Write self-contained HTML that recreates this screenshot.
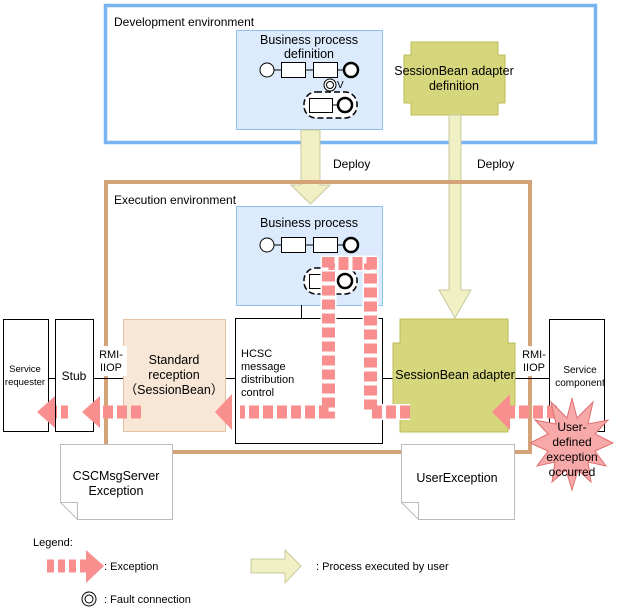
<!DOCTYPE html>
<html><head><meta charset="utf-8"><style>
html,body{margin:0;padding:0;background:#fff}
svg{display:block;font-family:"Liberation Sans",Arial,sans-serif}
</style></head><body>
<svg width="619" height="613" viewBox="0 0 619 613" xmlns="http://www.w3.org/2000/svg">
<!-- Dev env -->
<rect x="105.5" y="5.5" width="490" height="137" fill="none" stroke="#78b4f0" stroke-width="3.5"/>
<text x="114" y="26" font-size="12">Development environment</text>
<!-- BP def -->
<rect x="236.5" y="30.5" width="146" height="99" fill="#dbeafc" stroke="#90c0ec"/>
<text x="309" y="44" font-size="12.5" text-anchor="middle">Business process</text>
<text x="309" y="58" font-size="12.5" text-anchor="middle">definition</text>
<g stroke="#000" fill="#fff">
<line x1="274" y1="70" x2="344" y2="70"/>
<circle cx="267" cy="70" r="7"/>
<rect x="281.5" y="62.5" width="24" height="15"/>
<rect x="313.5" y="62.5" width="24" height="15"/>
<circle cx="351" cy="70" r="7" stroke-width="2.5"/>
<circle cx="330" cy="85" r="6"/><circle cx="330" cy="85" r="3.5"/>
<rect x="304" y="92" width="53" height="26" rx="12" stroke-dasharray="6 3" stroke-width="1.5"/>
<line x1="332" y1="105" x2="338" y2="105"/>
<rect x="309.5" y="98.5" width="23" height="14"/>
<circle cx="345" cy="105" r="7" stroke-width="2.5"/>
</g>
<text x="337" y="88" font-size="10">V</text>
<!-- SessionBean adapter def -->
<path d="M404,55 H411 V42 H498 V55 H505 V103 H498 V115 H411 V103 H404 Z" fill="#d6d67c" stroke="#bcbc58"/>
<text x="454" y="75" font-size="12.5" text-anchor="middle">SessionBean adapter</text>
<text x="454" y="90" font-size="12.5" text-anchor="middle">definition</text>
<!-- deploy arrows -->
<path d="M301,130 H320 V185 H330 L310.5,204 L291,185 H301 Z" fill="#f0f0c4" stroke="#c8c8a0"/>
<path d="M449,115 H461 V290 H471 L455,318 L439,290 H449 Z" fill="#f0f0c4" stroke="#c8c8a0"/>
<text x="333" y="168" font-size="12">Deploy</text>
<text x="477" y="168" font-size="12">Deploy</text>
<!-- Exec env -->
<rect x="106" y="182" width="424" height="270" fill="none" stroke="#d4a478" stroke-width="4"/>
<text x="114" y="204" font-size="12">Execution environment</text>
<!-- BP -->
<rect x="236.5" y="206.5" width="146" height="99" fill="#dbeafc" stroke="#90c0ec"/>
<text x="309" y="227" font-size="12.5" text-anchor="middle">Business process</text>
<g stroke="#000" fill="#fff">
<line x1="274" y1="245" x2="344" y2="245"/>
<circle cx="267" cy="245" r="7"/>
<rect x="281.5" y="237.5" width="24" height="15"/>
<rect x="313.5" y="237.5" width="24" height="15"/>
<circle cx="351" cy="245" r="7" stroke-width="2.5"/>
<rect x="304" y="268" width="53" height="26" rx="12" stroke-dasharray="6 3" stroke-width="1.5"/>
<rect x="309.5" y="274.5" width="23" height="14"/>
<circle cx="345" cy="281" r="7" stroke-width="2.5"/>
</g>
<line x1="301.5" y1="305" x2="301.5" y2="318" stroke="#000"/>
<!-- connection lines -->
<g stroke="#000">
<line x1="48" y1="378.5" x2="55" y2="378.5"/>
<line x1="94" y1="378.5" x2="123" y2="378.5"/>
<line x1="226" y1="378.5" x2="235" y2="378.5"/>
<line x1="383" y1="378.5" x2="393" y2="378.5"/>
<line x1="515" y1="378.5" x2="549" y2="378.5"/>
</g>
<!-- HCSC -->
<rect x="235.5" y="318.5" width="147" height="125" fill="#fff" stroke="#000"/>
<text font-size="11"><tspan x="241" y="357">HCSC</tspan><tspan x="241" y="370">message</tspan><tspan x="241" y="383">distribution</tspan><tspan x="241" y="396">control</tspan></text>
<!-- standard reception -->
<rect x="123.5" y="319.5" width="102" height="112" fill="#f8e6d6" stroke="#e2c2a2"/>
<text font-size="12.5" text-anchor="middle"><tspan x="174" y="364">Standard</tspan><tspan x="174" y="379">reception</tspan><tspan x="174" y="394">（SessionBean）</tspan></text>
<!-- stub, requester -->
<rect x="55.5" y="319.5" width="38" height="112" fill="#fff" stroke="#000"/>
<text x="74" y="380" font-size="12" text-anchor="middle">Stub</text>
<rect x="3.5" y="319.5" width="45" height="112" fill="#fff" stroke="#000"/>
<text font-size="9.5" text-anchor="middle"><tspan x="25" y="372">Service</tspan><tspan x="25" y="385">requester</tspan></text>
<rect x="95" y="346" width="32" height="30" fill="#fff"/>
<text font-size="11" text-anchor="middle"><tspan x="111" y="358">RMI-</tspan><tspan x="111" y="371">IIOP</tspan></text>
<!-- SessionBean adapter -->
<path d="M393,343 H400 V319 H508 V343 H515 V406 H508 V432 H400 V406 H393 Z" fill="#d6d67c" stroke="#bcbc58"/>
<text x="455" y="379" font-size="12.5" text-anchor="middle">SessionBean adapter</text>
<!-- service component -->
<rect x="549.5" y="319.5" width="55" height="112" fill="#fff" stroke="#000"/>
<rect x="519" y="346" width="30" height="30" fill="#fff"/>
<text font-size="11" text-anchor="middle"><tspan x="534" y="358">RMI-</tspan><tspan x="534" y="371">IIOP</tspan></text>
<text font-size="10" text-anchor="middle"><tspan x="580" y="373">Service</tspan><tspan x="580" y="386">component</tspan></text>
<!-- docs -->
<path d="M60.5,444.5 H172.5 V519.5 H77.5 L60.5,502.5 Z" fill="#fff" stroke="#bbb"/>
<path d="M60.5,502.5 H77.5 V519.5" fill="none" stroke="#bbb"/>
<text font-size="12.5" text-anchor="middle"><tspan x="116" y="480">CSCMsgServer</tspan><tspan x="116" y="495">Exception</tspan></text>
<path d="M401.5,444.5 H514.5 V519.5 H418.5 L401.5,502.5 Z" fill="#fff" stroke="#bbb"/>
<path d="M401.5,502.5 H418.5 V519.5" fill="none" stroke="#bbb"/>
<text x="457" y="482" font-size="12.5" text-anchor="middle">UserException</text>
<!-- exception path -->
<g fill="none">
<path d="M410,412 H370.5 V263.5 H328.5 V412 H240" stroke="#fff" stroke-width="16"/>
<path d="M410,412 H370.5 V263.5 H328.5 V412 H240" stroke="#f88e8e" stroke-width="13" stroke-dasharray="10 4"/>
<line x1="141" y1="412" x2="100" y2="412" stroke="#f88e8e" stroke-width="13" stroke-dasharray="10 4"/>
<line x1="68" y1="412" x2="56" y2="412" stroke="#f88e8e" stroke-width="13" stroke-dasharray="7 4"/>
<line x1="557" y1="412" x2="510" y2="412" stroke="#f88e8e" stroke-width="13" stroke-dasharray="10 4"/>
</g>
<g fill="#f88e8e">
<path d="M232,394 V430 L215,412 Z"/>
<path d="M100,396 V428 L82,412 Z"/>
<path d="M55,396 V428 L37,412 Z"/>
<path d="M510,394 V430 L492,412 Z"/>
</g>
<!-- starburst -->
<path d="M572,398 L577,418 L593,402 L588,424 L608,420 L595,434 L613,443 L595,451 L606,466 L588,462 L591,482 L578,470 L572,490 L566,470 L552,482 L555,462 L537,466 L548,451 L530,443 L548,434 L535,420 L556,424 L551,402 L567,418 Z" fill="#f7a8a8" stroke="#e07070"/>
<text font-size="12" text-anchor="middle"><tspan x="572" y="431">User-</tspan><tspan x="572" y="446">defined</tspan><tspan x="572" y="461">exception</tspan><tspan x="572" y="476">occurred</tspan></text>
<!-- legend -->
<text x="33" y="546" font-size="11">Legend:</text>
<line x1="47" y1="566" x2="88" y2="566" stroke="#f88e8e" stroke-width="13" stroke-dasharray="7 4"/>
<path d="M86,550 V583 L104,566 Z" fill="#f88e8e"/>
<text x="104" y="570" font-size="11">: Exception</text>
<path d="M251,559 H285 V550 L301,566 L285,583 V573 H251 Z" fill="#f0f0c4" stroke="#c8c8a0"/>
<text x="316" y="570" font-size="11">: Process executed by user</text>
<circle cx="89" cy="599" r="7" fill="#fff" stroke="#000"/><circle cx="89" cy="599" r="4" fill="none" stroke="#000"/>
<text x="104" y="603" font-size="11">: Fault connection</text>
</svg>
</body></html>
